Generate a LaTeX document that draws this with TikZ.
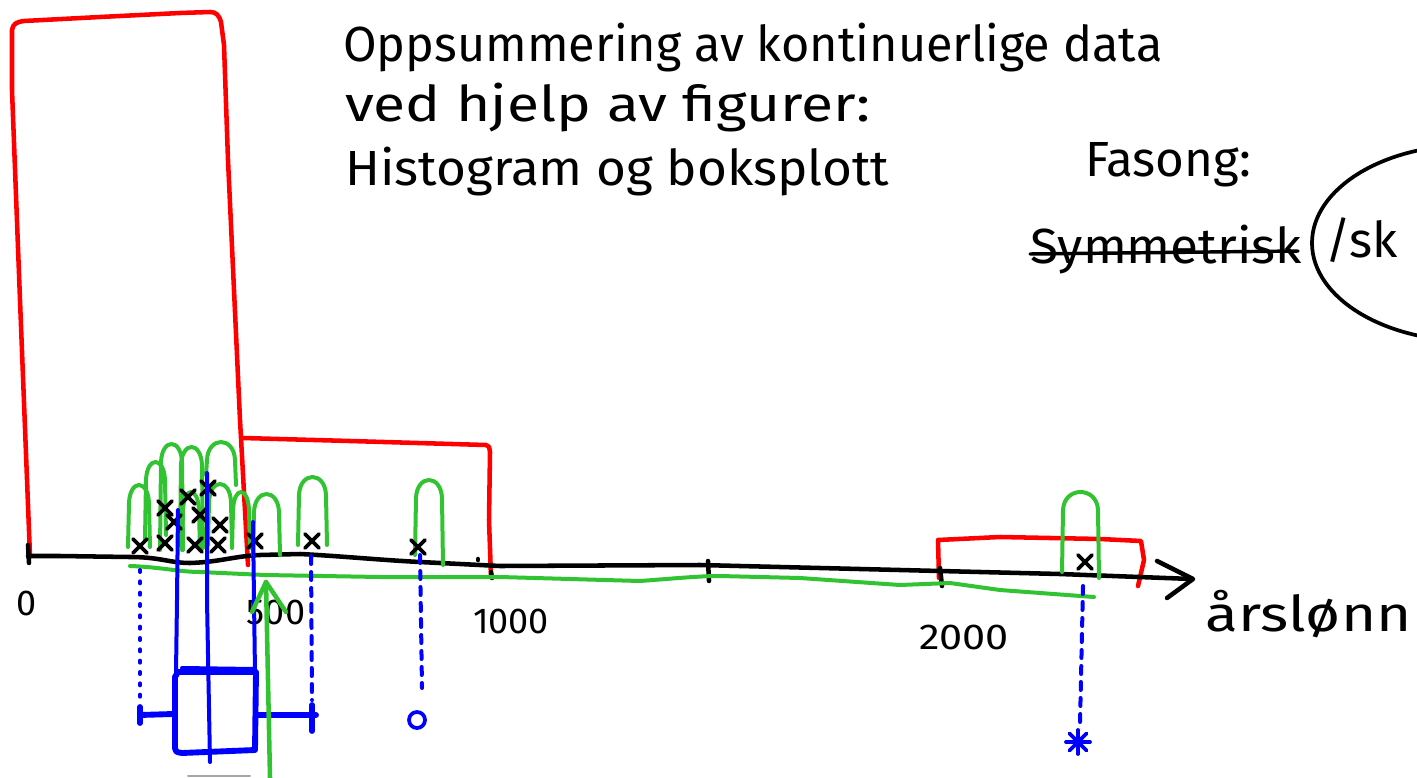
\documentclass[tikz,border=0pt]{standalone}
\usepackage{fontspec}
\setmainfont{Fira Sans}
\begin{document}
\begin{tikzpicture}[x=0.75pt,y=-0.75pt,line cap=round,line join=round,
  redl/.style={draw=red,line width=3.4pt},
  blackl/.style={draw=black,line width=3.4pt},
  bluel/.style={draw=blue,line width=3pt},
  boxl/.style={draw=blue,line width=4.4pt},
  dotl/.style={draw=blue,line width=3pt,dash pattern=on 1.5pt off 7pt},
  dashl/.style={draw=blue,line width=3pt,dash pattern=on 6pt off 6pt},
  xmark/.style={draw=black,line width=2.8pt},
  hand/.style={anchor=west,inner sep=0pt,font=\fontsize{37}{44}\selectfont},
  ticklab/.style={inner sep=0pt,font=\fontsize{27}{32}\selectfont}]
\definecolor{pengreen}{RGB}{50,195,50}
\tikzset{greenl/.style={draw=pengreen,line width=3pt}}
\useasboundingbox (0,0) rectangle (1417,778);
\clip (0,0) rectangle (1417,778);

% title text
\node[hand] (t1) at (343,48) {\scalebox{0.985}[1]{Oppsummering av kontinuerlige data}};
\node[hand] (t2) at (345,108) {\scalebox{1.19}[1]{ved hjelp av figurer:}};
\node[hand] (t3) at (345,172) {\scalebox{1.04}[1]{Histogram og boksplott}};
\node[hand] (fas) at (1085,165) {Fasong:};
\node[hand] (sym) at (1030,250) {\scalebox{1.04}[1]{Symmetrisk}};
\draw[black,line width=2.6pt] (1030,254) -- (1298,251);
\node[hand] (sk) at (1325,240) {/sk};
\draw[black,line width=2.8pt] (1470,243) ellipse [x radius=158,y radius=98];

% histogram bars (red)
\draw[redl] (30,556) -- (20,300) -- (12,90) -- (12,30) .. controls (13,24) and (16,22) .. (24,21)
  -- (100,17) -- (180,13) -- (210,12) .. controls (216,12) and (219,15) .. (221,22)
  -- (224,45) -- (228,160) -- (240,420) -- (248,565);
\draw[redl] (243,438) -- (350,441) -- (486,445) .. controls (489,446) .. (490,452) -- (489,520) -- (491,577);
\draw[redl] (939,578) -- (938,540) -- (1000,537) -- (1100,539) -- (1141,541) -- (1144,560) -- (1138,586);

% axis
\draw[blackl] (28,556) -- (60,556) -- (130,557) .. controls (160,557) and (170,563) .. (190,563)
  .. controls (220,562) and (235,556) .. (260,555) -- (300,554) .. controls (340,556) and (380,560) .. (420,562)
  -- (500,566) -- (700,565) -- (900,570) -- (1060,574) -- (1192,579);
\draw[blackl] (1157,561) -- (1193,579) -- (1167,598);
\draw[blackl] (28,545) -- (29,563);
\draw[blackl] (478,559) -- (478,560);
\draw[blackl] (491,572) -- (492,578);
\draw[blackl] (708,561) -- (709,581);
\draw[blackl] (940,568) -- (942,586);

% tick labels
\node[ticklab] (l0) at (27,603) {0};
\node[ticklab] (l500) at (276,612) {500};
\node[ticklab] (l1000) at (511,621) {1000};
\node[ticklab] (l2000) at (964,637) {\scalebox{1.15}[1]{2000}};
\node[hand] (xlab) at (1205,614) {\scalebox{1.22}[1]{årslønn}};

% green baseline
\draw[greenl] (130,566) .. controls (160,567) and (180,572) .. (200,572) -- (265,575) -- (380,577)
  -- (500,577) -- (640,581) .. controls (680,578) and (700,576) .. (720,576) -- (800,578)
  -- (900,585) -- (950,583) -- (1000,590) -- (1094,597);

% green arches
\foreach \a/\b/\t/\l/\r in {128/150/483/547/547, 145/166/460/540/535, 160/183/442/550/550,
   180/203/445/545/548, 206/236/440/475/485, 182/200/490/550/550, 208/232/482/545/545,
   232/250/490/548/548, 253/280/492/555/555, 298/327/475/545/545, 415/443/478/555/565,
   1062/1099/490/572/578}{
  \draw[greenl] (\a,\l) -- (\a+1,\t+20) .. controls (\a+2,\t-4) and (\b-2,\t-4) .. (\b-1,\t+20) -- (\b,\r);
}

% data points (x)
\foreach \x/\y in {140/546, 165/543, 195/545, 218/545, 255/541, 312/541, 418/547, 1085/562,
   165/508, 188/497, 208/488, 200/515, 220/525, 174/522}{
  \draw[xmark] (\x-7,\y-7) -- (\x+7,\y+7) (\x-7,\y+7) -- (\x+7,\y-7);
}

% boxplot (blue)
\draw[bluel] (178,510) -- (177,600) -- (176,673);
\draw[bluel] (207,473) -- (207,600) -- (210,762);
\draw[bluel] (253,522) -- (254,600) -- (255,673);
\draw[boxl] (175,677) -- (175,748) .. controls (176,752) .. (182,753) -- (255,750) -- (256,672) -- (178,672) -- cycle;
\draw[bluel] (182,668) -- (254,669);
\draw[boxl] (140,715) -- (173,714);
\draw[boxl] (140,707) -- (140,723);
\draw[boxl] (257,715) -- (316,715);
\draw[boxl] (312,705) -- (312,731);
\draw[dotl] (140,570) -- (140,702);
\draw[dashl] (311,556) -- (312,700);
\draw[dashl] (420,555) -- (422,688);
\draw[blue,line width=2.8pt] (417,720) circle [radius=8];
\draw[dashl] (1083,586) -- (1080,724);
\foreach \ang in {0,45,90,135}{
  \draw[blue,line width=2.8pt] (1078,742) ++(\ang:12) -- ++(\ang+180:24);
}

% green arrow
\draw[greenl,line width=3.4pt] (270,778) -- (266,582);
\draw[greenl,line width=3.4pt] (252,612) -- (266,582) -- (286,612);

% faint stroke at bottom
\draw[gray!70,line width=1.5pt] (188,776) -- (250,776);
\end{tikzpicture}
\end{document}
